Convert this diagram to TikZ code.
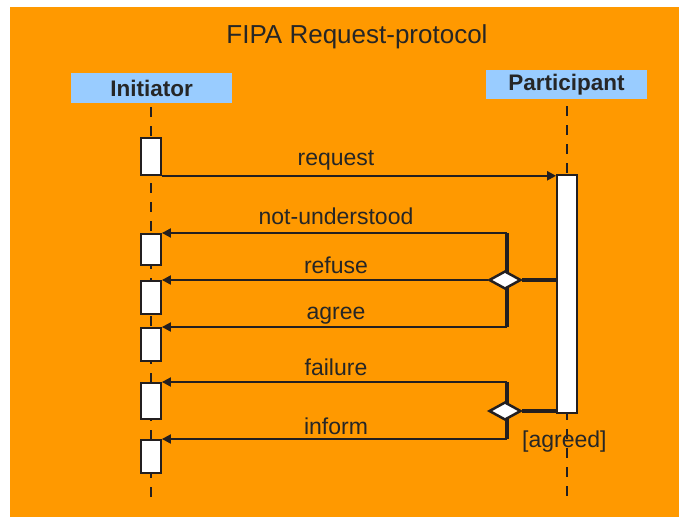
\documentclass[tikz,border=0pt]{standalone}
\usepackage{fontspec}
\setmainfont{Liberation Sans}
\usetikzlibrary{arrows.meta,shapes.geometric}
\definecolor{bgorange}{HTML}{FF9900}
\definecolor{hdrblue}{HTML}{99CCFF}
\definecolor{linec}{HTML}{231F20}
\definecolor{txtc}{HTML}{262626}
\tikzset{
  act/.style={draw=linec, fill=white, line width=1.8pt, minimum width=20pt, inner sep=0pt, anchor=north},
  hdr/.style={fill=hdrblue, minimum width=161pt, inner sep=0pt, text=txtc, font=\fontsize{22.5}{26}\selectfont\bfseries},
  lifeline/.style={draw=linec, line width=1.8pt, dash pattern=on 10pt off 9pt},
  msg/.style={draw=linec, line width=2pt, -{Triangle[length=9pt,width=9pt]}},
  thick bar/.style={draw=linec, line width=4pt},
  lbl/.style={anchor=base, text=txtc, inner sep=0pt, font=\fontsize{23}{27}\selectfont},
  choice/.style={diamond, draw=linec, fill=white, line width=2.5pt, minimum width=32pt, minimum height=18pt, inner sep=0pt}
}
\begin{document}
\begin{tikzpicture}[x=1pt,y=-1pt]
\useasboundingbox (0,0) rectangle (679,518);
\fill[white] (0,0) rectangle (679,518);
\fill[bgorange] (10,7) rectangle (679,517);
% title
\node[anchor=base, text=txtc, inner sep=0pt, font=\fontsize{26}{30}\selectfont] (title) at (357,44) {FIPA Request-protocol};
% headers
\node[hdr, minimum height=30pt] (init) at (151.5,88) {Initiator};
\node[hdr, minimum height=29pt] (part) at (566.5,84.5) {Participant};
% lifelines
\coordinate (iend) at (151,503);
\coordinate (pend) at (567,503);
\draw[lifeline] (init.south -| iend) ++(0,4) -- (iend);
\draw[lifeline] (part.south -| pend) ++(0,7) -- (pend);
% activation boxes
\node[act, minimum height=37pt] (a1) at (151,137) {};
\node[act, minimum height=31pt] (a2) at (151,233) {};
\node[act, minimum height=33pt] (a3) at (151,280) {};
\node[act, minimum height=33pt] (a4) at (151,327) {};
\node[act, minimum height=36pt] (a5) at (151,382) {};
\node[act, minimum height=33pt] (a6) at (151,439) {};
\node[act, minimum height=238pt] (p1) at (567,174) {};
% junction points
\coordinate (j1) at (507,233);
\coordinate (j2) at (507,327);
\coordinate (j3) at (507,382);
\coordinate (j4) at (507,439);
% request
\draw[msg] (a1.south east) -- (a1.south east -| p1.west);
% first choice
\draw[thick bar] (j1) -- (j2);
\draw[msg] (j1) -- (a2.north east);
\draw[msg] (j2) -- (a4.north east);
\node[choice] (d1) at (505,280) {};
\draw[msg] (d1.west) -- (a3.north east);
\draw[thick bar] (d1.east) -- (d1.east -| p1.west);
% second choice
\draw[thick bar] (j3) -- (j4);
\draw[msg] (j3) -- (a5.north east);
\draw[msg] (j4) -- (a6.north east);
\node[choice] (d2) at (505,411) {};
\draw[thick bar] (d2.east) -- (d2.east -| p1.west);
% labels
\node[lbl] (lreq) at (336,166) {request};
\node[lbl] (lnu) at (336,225) {not-understood};
\node[lbl] (lref) at (336,274) {refuse};
\node[lbl] (lagr) at (336,319) {agree};
\node[lbl] (lfail) at (336,375) {failure};
\node[lbl] (linf) at (336,434) {inform};
\node[lbl, anchor=base west] (lagreed) at (522,447) {[agreed]};
\end{tikzpicture}
\end{document}
